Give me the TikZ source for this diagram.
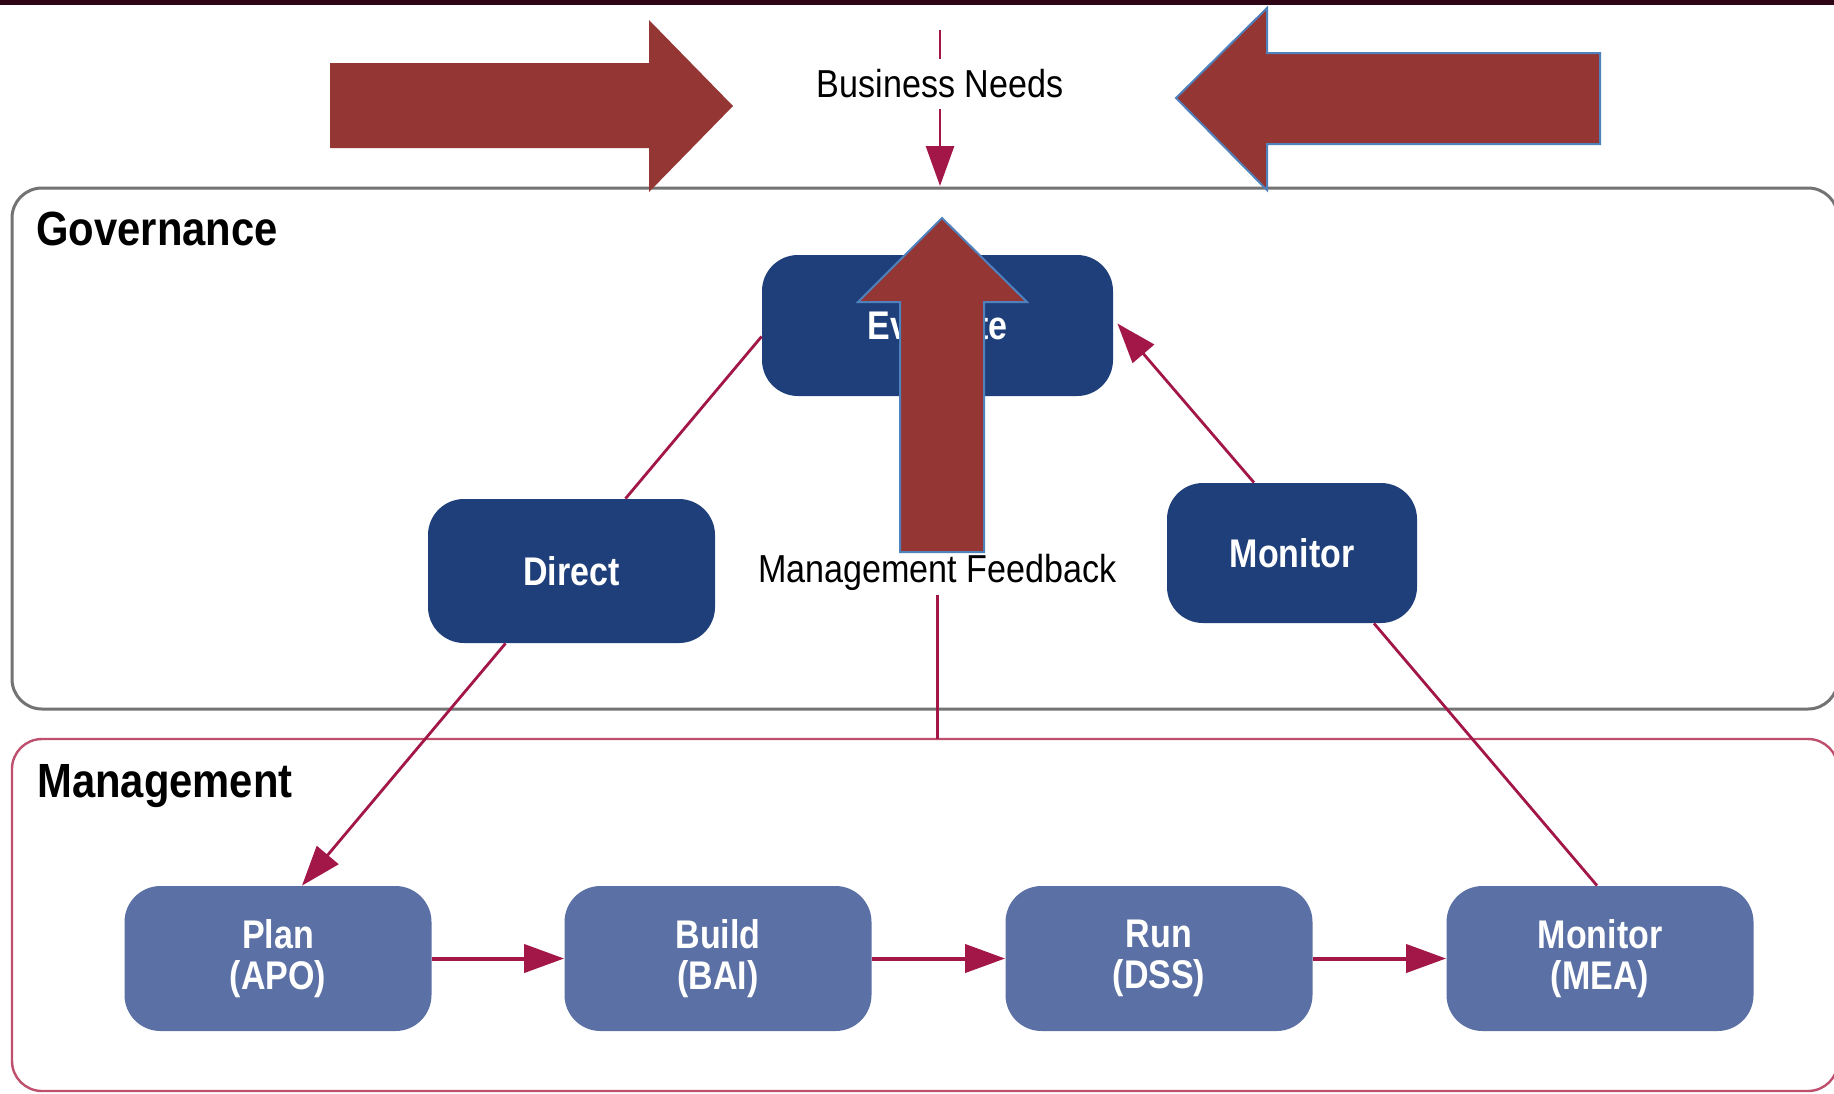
\documentclass[tikz,border=0pt]{standalone}
\usepackage{fontspec}
\setmainfont{Liberation Sans}
\newfontfamily\nrw{Liberation Sans}[FakeStretch=0.875]
\newfontfamily\nrwb{Liberation Sans}[FakeStretch=0.85]
\newfontfamily\hdf{Liberation Sans}[FakeStretch=0.87]
\usetikzlibrary{arrows.meta,calc}
\definecolor{navy}{RGB}{31,63,122}
\definecolor{lblue}{RGB}{91,112,164}
\definecolor{crim}{RGB}{162,22,72}
\definecolor{mgmtc}{RGB}{190,80,110}
\definecolor{govc}{RGB}{115,115,115}
\definecolor{bigred}{RGB}{148,54,52}
\definecolor{edgeblue}{RGB}{79,129,189}
\definecolor{topbar}{RGB}{45,5,20}
\begin{document}
\begin{tikzpicture}[x=0.5pt,y=-0.5pt,
  gbox/.style={fill=navy, rounded corners=18pt, inner sep=0pt, text=white,
    font=\nrwb\bfseries\fontsize{20}{20.5}\selectfont},
  pbox/.style={fill=lblue, rounded corners=18pt, inner sep=0pt, text=white, align=center,
    minimum width=153.5pt, minimum height=72.5pt,
    font=\nrwb\bfseries\fontsize{20}{20.5}\selectfont},
  plaintext/.style={font=\nrw\fontsize{19.5}{21}\selectfont, text=black},
  heading/.style={font=\hdf\bfseries\fontsize{24}{26}\selectfont, text=black, inner sep=0pt},
  conn/.style={draw=crim, line width=1.4pt},
  arr/.style={draw=crim, line width=1.4pt, -{Triangle[length=20pt,width=14pt]}},
  harr/.style={draw=crim, line width=2pt, -{Triangle[length=20pt,width=14pt]}},
  bigarrow/.style={fill=bigred, draw=edgeblue, line width=1pt, line join=miter}
]
\useasboundingbox (0,0) rectangle (1834,1093);
\fill[white] (0,0) rectangle (1834,1093);
\fill[topbar] (0,0) rectangle (1834,5);

% layer boxes
\draw[govc, line width=1.5pt, rounded corners=15pt] (12,188) rectangle (1838,709);
\draw[mgmtc, line width=1.2pt, rounded corners=15pt] (12,739) rectangle (1838,1091);
\node[heading, anchor=base west] (govlabel) at (36,245) {Governance};
\node[heading, anchor=base west] (mgmtlabel) at (37,797) {Management};

% governance nodes
\node[gbox, minimum width=175.5pt, minimum height=70.5pt] (eval) at (937.5,325.5) {Evaluate};
\node[gbox, minimum width=143.5pt, minimum height=72pt] (direct) at (571.5,571) {Direct};
\node[gbox, minimum width=125pt, minimum height=70pt] (monitor) at (1292,553) {Monitor};

% management nodes
\node[pbox] (plan) at (278,958.5) {Plan\\(APO)};
\node[pbox] (build) at (718,958.5) {Build\\(BAI)};
\node[pbox] (run) at (1159,958.5) {Run\\(DSS)};
\node[pbox] (mea) at (1600,958.5) {Monitor\\(MEA)};

% texts
\node[plaintext, fill=white, inner xsep=2pt, inner ysep=5pt] (bn) at (940,84) {Business Needs};
\coordinate (bntop) at (940,30);
\coordinate (bnend) at (940,186);
\node[plaintext, anchor=base, inner sep=2pt] (mf) at (937.5,582) {Management Feedback};
\coordinate (mfend) at (937.5,739);

% connectors
\draw[conn] (bntop) -- (bn.north);
\draw[arr] (bn.south) -- (bnend);
\draw[conn] (mf.south) -- (mfend);
\draw[conn] ($(eval.west)+(0,11)$) -- ($(direct.north)+(54,0)$);
\draw[arr] ($(monitor.north)+(-38,0)$) -- ($(eval.east)+(4,-2)$);
\draw[arr] ($(direct.south)+(-66,0)$) -- ($(plan.north)+(24,0)$);
\draw[conn] ($(mea.north)+(-3,0)$) -- ($(monitor.south)+(82,0)$);
\draw[harr] (plan) -- (build);
\draw[harr] (build) -- (run);
\draw[harr] (run) -- (mea);

% big arrows
\fill[bigred] (330,63) -- (649,63) -- (649,20) -- (733,106) -- (649,192) -- (649,148) -- (330,148) -- cycle;
\filldraw[bigarrow] (1600,53) -- (1267,53) -- (1267,8) -- (1176,98) -- (1267,190) -- (1267,144) -- (1600,144) -- cycle;
\filldraw[bigarrow] (942,218) -- (1027,302) -- (984,302) -- (984,552) -- (900,552) -- (900,302) -- (858,302) -- cycle;
\end{tikzpicture}
\end{document}
